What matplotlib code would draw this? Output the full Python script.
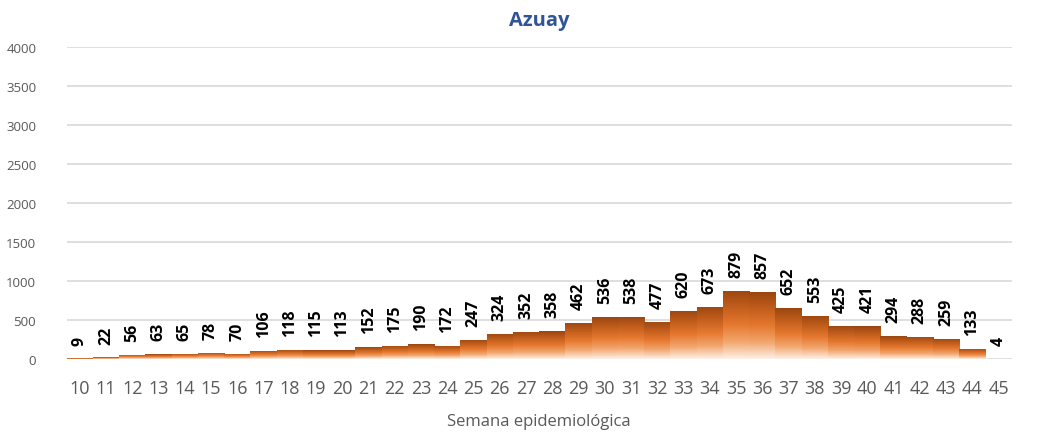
import numpy as np
import matplotlib
matplotlib.use("Agg")
import matplotlib.pyplot as plt
from matplotlib.colors import LinearSegmentedColormap

plt.rcParams['font.family'] = ['Open Sans', 'DejaVu Sans']

semanas = list(range(10, 46))
casos = [9, 22, 56, 63, 65, 78, 70, 106, 118, 115, 113, 152, 175, 190, 172, 247,
         324, 352, 358, 462, 536, 538, 477, 620, 673, 879, 857, 652, 553, 425,
         421, 294, 288, 259, 133, 4]

# gradient: light at the bottom, dark brown at the top
cmap = LinearSegmentedColormap.from_list(
    'naranja', ['#fdf1e8', '#f2a66e', '#e5782f', '#c25e1c', '#9a4611'])
grad = np.linspace(0, 1, 256).reshape(-1, 1)

fig = plt.figure(figsize=(10.43, 4.35), dpi=100)
ax = fig.add_axes([0.064, 0.172, 0.906, 0.718])

x = np.arange(len(semanas))
bars = ax.bar(x, casos, width=1.0, color='none', edgecolor='none', zorder=2)
for b in bars:
    x0, y0 = b.get_x(), b.get_y()
    w, h = b.get_width(), b.get_height()
    im = ax.imshow(grad, cmap=cmap, aspect='auto', origin='lower',
                   extent=[x0, x0 + w, y0, y0 + h], zorder=2)
    im.set_clip_path(b)

for xi, v in zip(x, casos):
    ax.annotate(str(v), (xi, v), xytext=(0, 10), textcoords='offset points',
                rotation=90, ha='center', va='bottom', fontsize=11.5,
                fontweight='bold', color='black')

ax.set_xlim(-0.5, len(semanas) - 0.5)
ax.set_ylim(0, 4000)
ax.set_yticks(range(0, 4001, 500))
ax.set_xticks(x)
ax.set_xticklabels(semanas)
ax.tick_params(axis='x', length=0, labelsize=13, labelcolor='#595959', pad=14)
ax.tick_params(axis='y', length=0, labelsize=9.5, labelcolor='#595959', pad=22)
ax.yaxis.grid(True, color='#d9d9d9', linewidth=1.2, zorder=0)
ax.set_axisbelow(True)
for s in ax.spines.values():
    s.set_visible(False)

ax.set_xlabel('Semana epidemiológica', fontsize=12, color='#595959', labelpad=12)
ax.set_title('Azuay', fontsize=14.5, fontweight='bold', color='#2f5597', pad=16)

fig.savefig('out.png', dpi=100)
